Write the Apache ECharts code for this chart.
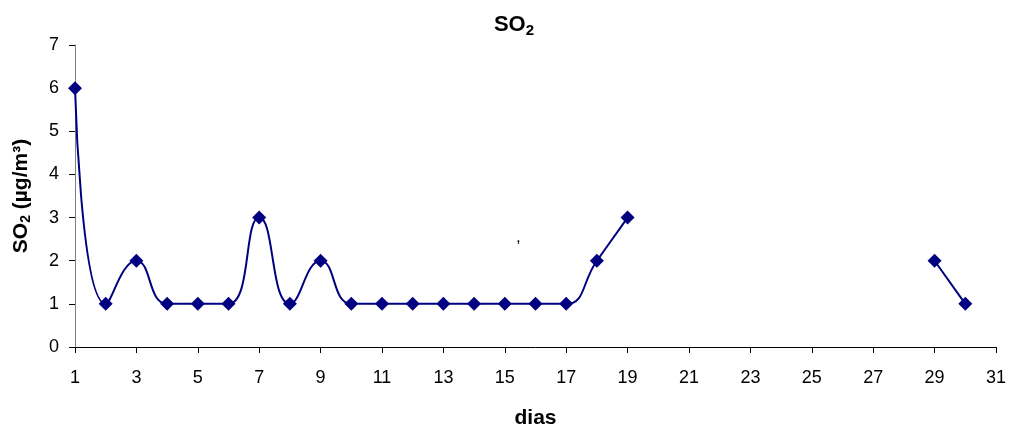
<!DOCTYPE html>
<html>
<head>
<meta charset="utf-8">
<script src="https://cdn.jsdelivr.net/npm/echarts@6/dist/echarts.min.js"></script>
<style>html,body{margin:0;padding:0;background:#fff;}#c{width:1009px;height:434px;}</style>
</head>
<body>
<div id="c"></div>
<script>
const days = [1,2,3,4,5,6,7,8,9,10,11,12,13,14,15,16,17,18,19,20,21,22,23,24,25,26,27,28,29,30];
const so2 = [6,1,2,1,1,1,3,1,2,1,1,1,1,1,1,1,1,2,3,null,null,null,null,null,null,null,null,null,2,1];
const xTicks = [1,3,5,7,9,11,13,15,17,19,21,23,25,27,29,31];
const yTicks = [0,1,2,3,4,5,6,7];

const data = days.map((d, i) => [d, so2[i] === null ? '-' : so2[i]]);
const font = '"Liberation Sans", Arial, sans-serif';
const chart = echarts.init(document.getElementById('c'));
chart.setOption({
  animation: false,
  title: {
    text: 'SO{sub|2}', left: 509, top: 6, textAlign: 'center',
    textStyle: { fontFamily: font, fontSize: 22, fontWeight: 'bold', color: '#000',
      rich: { sub: { fontFamily: font, fontSize: 15, fontWeight: 'bold', verticalAlign: 'bottom', padding: [12,0,0,0] } } }
  },
  grid: { left: 75, right: 13, top: 45, bottom: 86, containLabel: false },
  xAxis: {
    type: 'value', min: xTicks[0], max: xTicks[xTicks.length - 1], interval: 2,
    name: 'dias', nameLocation: 'middle', nameGap: 61,
    nameTextStyle: { fontFamily: font, fontSize: 21, fontWeight: 'bold', color: '#000' },
    axisLine: { show: true, onZero: false, lineStyle: { color: '#000', width: 1 } },
    axisTick: { show: true, length: 6, lineStyle: { color: '#000' } },
    axisLabel: { fontFamily: font, fontSize: 18, color: '#000', margin: 22 },
    splitLine: { show: false }
  },
  yAxis: {
    type: 'value', min: yTicks[0], max: yTicks[yTicks.length - 1], interval: 1,
    name: 'SO{sub|2} (µg/m³)', nameLocation: 'middle', nameGap: 42, nameRotate: 90,
    nameTextStyle: { fontFamily: font, fontSize: 21, fontWeight: 'bold', color: '#000',
      rich: { sub: { fontFamily: font, fontSize: 14, fontWeight: 'bold', padding: [10,0,0,0] } } },
    axisLine: { show: true, lineStyle: { color: '#808080', width: 1 } },
    axisTick: { show: true, length: 6, lineStyle: { color: '#000' } },
    axisLabel: { fontFamily: font, fontSize: 18, color: '#000', margin: 16 },
    splitLine: { show: false }
  },
  series: [{
    type: 'line', data: data, smooth: 0.5, connectNulls: false,
    symbol: 'diamond', symbolSize: 14,
    lineStyle: { color: '#000080', width: 2 },
    itemStyle: { color: '#000080' }
  }],
  graphic: [{
    type: 'text', left: 516, top: 229,
    style: { text: ',', fontFamily: font, fontSize: 17, fill: '#000' }
  }]
});
</script>
</body>
</html>
